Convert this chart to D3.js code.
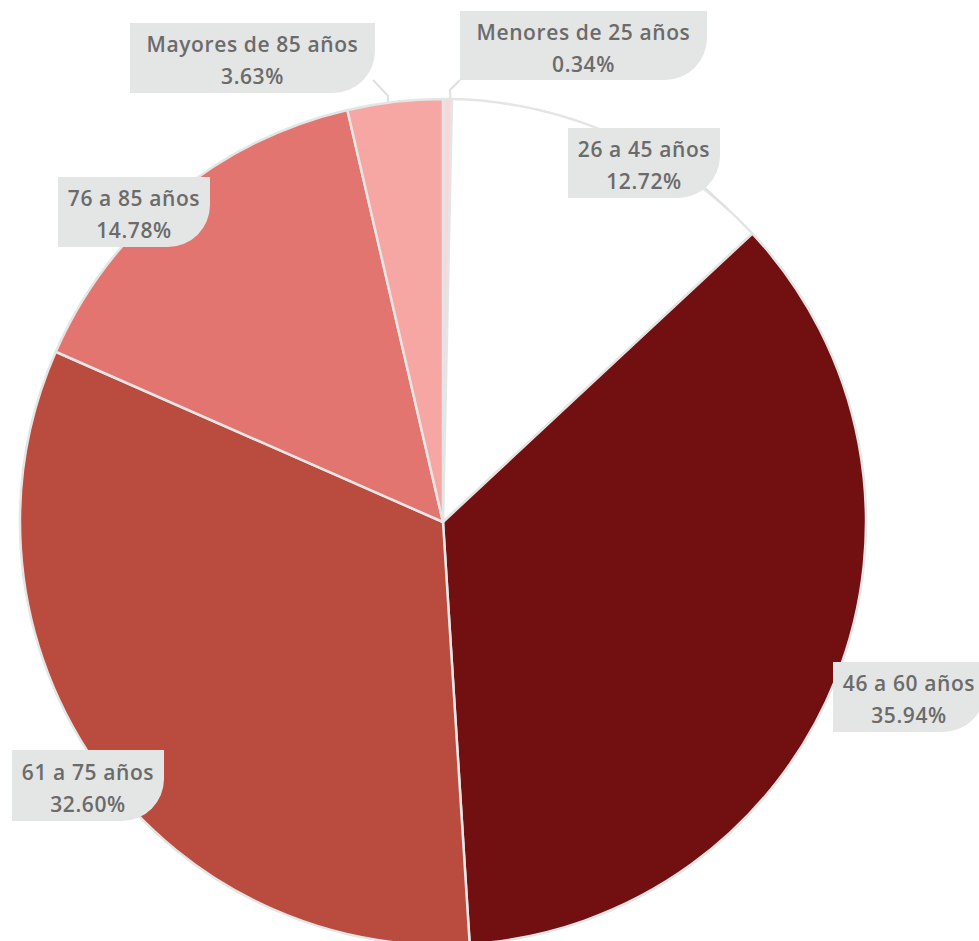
<!DOCTYPE html>
<html>
<head>
<meta charset="utf-8">
<script src="https://cdn.jsdelivr.net/npm/d3@7"></script>
<style>
  html, body { margin: 0; padding: 0; background: #fff; }
  svg { display: block; }
  .lbl text { font-family: "Open Sans", sans-serif; font-weight: 600; fill: #6b6b6b; letter-spacing: 0.6px; }
</style>
</head>
<body>
<div id="chart"></div>
<script>
// data
var categories = ["Menores de 25 años", "26 a 45 años", "46 a 60 años", "61 a 75 años", "76 a 85 años", "Mayores de 85 años"];
var shares = [0.34, 12.72, 35.94, 32.60, 14.78, 3.63];
var sliceColors = ["#f9d7d9", "#ffffff", "#720f11", "#b94c3f", "#e27570", "#f6a7a4"];

// label boxes (layout only) + leader elbow, leader end angle on pie rim (deg)
var labelBoxes = [
  {x: 460, y: 11,  w: 247, h: 69, leader: [[460, 80], [450, 90]], endAngle: 1.0},
  {x: 568, y: 128, w: 152, h: 70, leader: [[703, 186]], endAngle: 42.4},
  {x: 833, y: 662, w: 152, h: 70, leader: null},
  {x: 12,  y: 750, w: 152, h: 71, leader: null},
  {x: 58,  y: 177, w: 152, h: 70, leader: [[120, 247]], endAngle: 322.5},
  {x: 130, y: 23,  w: 245, h: 70, leader: [[373, 80], [388, 96]], endAngle: 352.5}
];

var width = 979, height = 941;
var cx = 443, cy = 522, radius = 423;

var svg = d3.select("#chart").append("svg")
  .attr("width", width)
  .attr("height", height);

var pie = d3.pie().sort(null).value(function(d) { return d; });
var arc = d3.arc().innerRadius(0).outerRadius(radius);

var arcs = pie(shares);

var g = svg.append("g")
  .attr("transform", "translate(" + cx + "," + cy + ")");

g.selectAll("path.slice")
  .data(arcs)
  .enter().append("path")
  .attr("class", "slice")
  .attr("d", arc)
  .attr("fill", function(d, i) { return sliceColors[i]; })
  .attr("stroke", "#e4e6e6")
  .attr("stroke-width", 2.5)
  .attr("stroke-linejoin", "round");

// leaders
var line = d3.line();
labelBoxes.forEach(function(b) {
  if (!b.leader) return;
  var end = d3.pointRadial(b.endAngle * Math.PI / 180, radius);
  var pts = b.leader.slice();
  pts.push([end[0] + cx, end[1] + cy]);
  svg.append("path")
    .attr("d", line(pts))
    .attr("fill", "none")
    .attr("stroke", "#dfe1e1")
    .attr("stroke-width", 2);
});

// label boxes with rounded bottom-right corner
function boxPath(b) {
  var r = 42;
  return "M" + b.x + "," + b.y +
    "H" + (b.x + b.w) +
    "V" + (b.y + b.h - r) +
    "A" + r + "," + r + " 0 0 1 " + (b.x + b.w - r) + "," + (b.y + b.h) +
    "H" + b.x + "Z";
}

var lbl = svg.selectAll("g.lbl")
  .data(categories)
  .enter().append("g")
  .attr("class", "lbl");

lbl.append("path")
  .attr("d", function(d, i) { return boxPath(labelBoxes[i]); })
  .attr("fill", "#e4e5e5");

lbl.append("text")
  .attr("x", function(d, i) { return labelBoxes[i].x + labelBoxes[i].w / 2; })
  .attr("y", function(d, i) { return labelBoxes[i].y + labelBoxes[i].h / 2 - 6; })
  .attr("text-anchor", "middle")
  .style("font-size", "21px")
  .text(function(d) { return d; });

lbl.append("text")
  .attr("x", function(d, i) { return labelBoxes[i].x + labelBoxes[i].w / 2; })
  .attr("y", function(d, i) { return labelBoxes[i].y + labelBoxes[i].h / 2 + 26; })
  .attr("text-anchor", "middle")
  .style("font-size", "21px")
  .text(function(d, i) { return shares[i].toFixed(2) + "%"; });
</script>
</body>
</html>
